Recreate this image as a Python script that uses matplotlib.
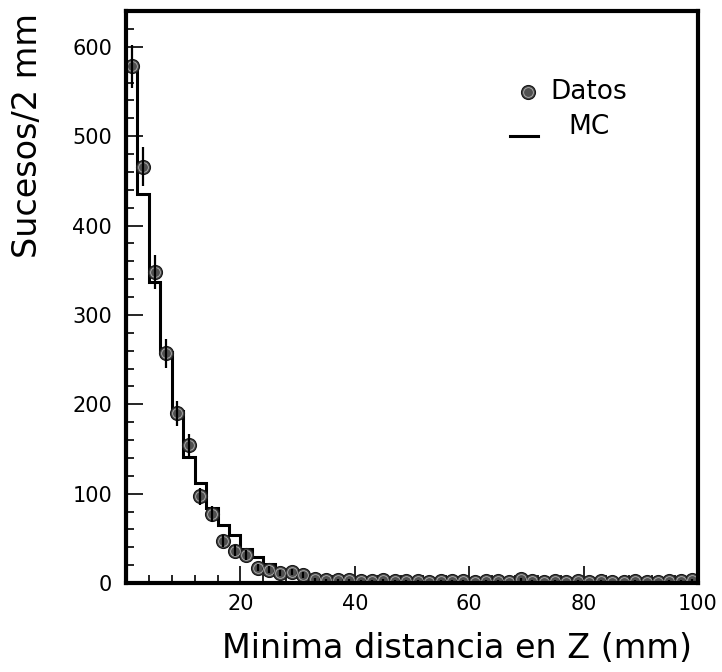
import numpy as np
import matplotlib
matplotlib.use("Agg")
import matplotlib.pyplot as plt
from matplotlib.ticker import MultipleLocator

# Bin edges (2 mm bins from 0 to 100 mm)
bin_edges = np.arange(0, 101, 2)
bin_centers = np.arange(1, 100, 2)

# Measured events per bin
datos = [578, 466, 348, 257, 190, 154, 97, 77, 47, 36,
         31, 17, 15, 11, 12, 9, 4, 3, 3, 3,
         2, 2, 3, 2, 2, 2, 1, 2, 2, 2,
         1, 2, 2, 1, 4, 2, 1, 2, 1, 2,
         1, 2, 1, 1, 2, 1, 1, 2, 2, 3]

# Monte Carlo expectation per bin
mc = [575, 435, 337, 259, 192, 141, 112, 84, 65, 54,
      38, 29, 21, 14, 12, 9, 5, 4, 3, 3,
      2, 2, 2, 2, 2, 2, 2, 2, 2, 2,
      2, 2, 2, 2, 2, 2, 2, 2, 2, 2,
      2, 2, 2, 2, 2, 2, 2, 2, 2, 2]

x_ticks = [20, 40, 60, 80, 100]
y_ticks = [0, 100, 200, 300, 400, 500, 600]

datos = np.array(datos, dtype=float)
errores = np.sqrt(datos)

W, H = 722, 672
fig = plt.figure(figsize=(W / 100, H / 100), dpi=100)
L, R, T, B = 126, 698, 11, 583
ax = fig.add_axes([L / W, 1 - B / H, (R - L) / W, (B - T) / H])

# MC histogram
ax.stairs(mc, bin_edges, baseline=0, color="black", linewidth=2.2, zorder=2)

# Data points with statistical error bars
ax.plot(bin_centers, datos, linestyle="none", marker="o", markersize=10,
        markerfacecolor="#505050", markeredgecolor="#1a1a1a",
        markeredgewidth=0.9, zorder=3)
ax.plot(bin_centers, datos, linestyle="none", marker="o", markersize=7,
        markerfacecolor="none", markeredgecolor="#b0b0b0",
        markeredgewidth=0.6, zorder=3.5)
ax.vlines(bin_centers, datos - errores, datos + errores, color="black",
          linewidth=1.6, zorder=4)

ax.set_xlim(0, 100)
ax.set_ylim(0, 640)

ax.set_xticks(x_ticks)
ax.set_yticks(y_ticks)
ax.xaxis.set_minor_locator(MultipleLocator(4))
ax.yaxis.set_minor_locator(MultipleLocator(20))
ax.tick_params(which="both", direction="in", top=False, right=False,
               width=1.2, color="black")
ax.tick_params(which="major", length=12)
ax.tick_params(which="minor", length=6)
ax.tick_params(axis="x", which="major", pad=8)
ax.tick_params(axis="y", which="major", pad=10)
for lab in ax.get_xticklabels() + ax.get_yticklabels():
    lab.set_fontfamily("DejaVu Sans")
    lab.set_fontsize(15)

for sp in ax.spines.values():
    sp.set_linewidth(3)
    sp.set_zorder(5)

title_font = dict(family="DejaVu Sans", fontsize=24)
fig.text(692 / W, 1 - 649 / H, "Minima distancia en Z (mm)",
         ha="right", va="center", **title_font)
fig.text(28 / W, 1 - 13 / H, "Sucesos/2 mm", rotation=90,
         ha="center", va="top", **title_font)

# Legend
def ax_frac(px, py):
    return (px - L) / (R - L), (B - py) / (B - T)

mx, my = ax_frac(528, 92)
ax.plot([mx], [my], transform=ax.transAxes, marker="o", markersize=10,
        markerfacecolor="#505050", markeredgecolor="#1a1a1a",
        markeredgewidth=0.9, clip_on=False)
ax.plot([mx], [my], transform=ax.transAxes, marker="o", markersize=7,
        markerfacecolor="none", markeredgecolor="#b0b0b0",
        markeredgewidth=0.6, clip_on=False)
tx, ty = ax_frac(550, 92)
ax.text(tx, ty, "Datos", transform=ax.transAxes, ha="left", va="center",
        family="DejaVu Sans", fontsize=19)
x0, ly = ax_frac(510, 136)
x1, _ = ax_frac(538, 136)
ax.plot([x0, x1], [ly, ly], transform=ax.transAxes, color="black",
        linewidth=2.2)
tx, ty = ax_frac(568, 127)
ax.text(tx, ty, "MC", transform=ax.transAxes, ha="left", va="center",
        family="DejaVu Sans", fontsize=19)

fig.savefig("out.png", dpi=100)
